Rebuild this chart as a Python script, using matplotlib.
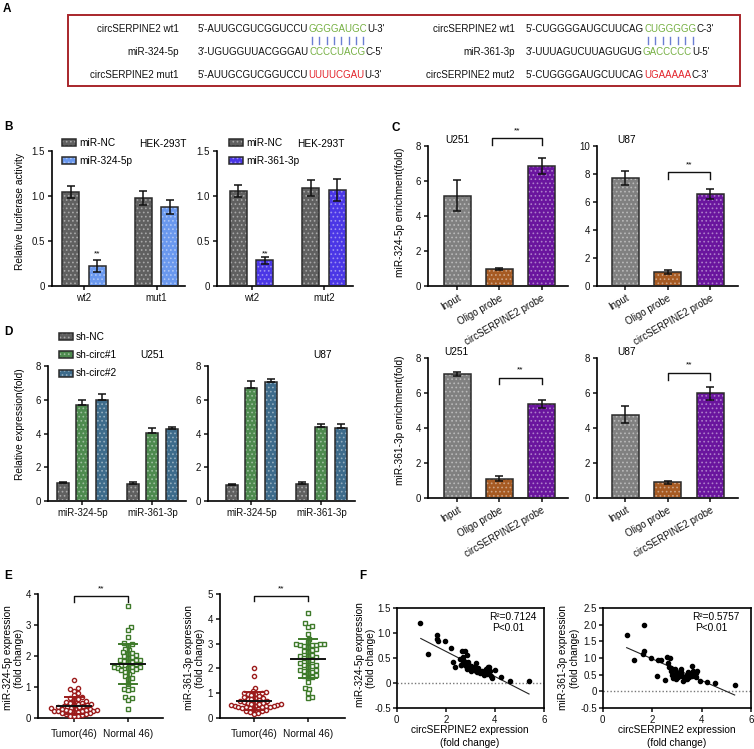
import numpy as np
import matplotlib
matplotlib.use('Agg')
import matplotlib.pyplot as plt
from matplotlib.patches import Rectangle

plt.rcParams['font.family'] = ['Liberation Sans', 'DejaVu Sans']
plt.rcParams['font.size'] = 7
plt.rcParams['hatch.linewidth'] = 0.7
plt.rcParams['axes.linewidth'] = 1.2
plt.rcParams['xtick.major.width'] = 1.1
plt.rcParams['ytick.major.width'] = 1.1
plt.rcParams['xtick.major.size'] = 3
plt.rcParams['ytick.major.size'] = 3
plt.rcParams['xtick.major.pad'] = 2
plt.rcParams['ytick.major.pad'] = 2

# ---------------- data ----------------
# Panel A
seqA_left = [
    ("circSERPINE2 wt1", [("5'-AUUGCGUCGGUCCU", 'k'), ("GGGGAUGC", 'g'), ("U-3'", 'k')]),
    ("miR-324-5p", [("3'-UGUGGUUACGGGAU", 'k'), ("CCCCUACG", 'g'), ("C-5'", 'k')]),
    ("circSERPINE2 mut1", [("5'-AUUGCGUCGGUCCU", 'k'), ("UUUUCGAU", 'r'), ("U-3'", 'k')]),
]
seqA_right = [
    ("circSERPINE2 wt1", [("5'-CUGGGGAUGCUUCAG", 'k'), ("CUGGGGG", 'g'), ("C-3'", 'k')]),
    ("miR-361-3p", [("3'-UUUAGUCUUAGUGUG", 'k'), ("GACCCCC", 'g'), ("U-5'", 'k')]),
    ("circSERPINE2 mut2", [("5'-CUGGGGAUGCUUCAG", 'k'), ("UGAAAAA", 'r'), ("C-3'", 'k')]),
]

# Panel B
B_groups_left = ["wt2", "mut1"]
B_groups_right = ["wt2", "mut2"]
B_nc_left = [1.044, 0.978]
B_nc_left_err = [0.063, 0.076]
B_324 = [0.222, 0.878]
B_324_err = [0.065, 0.078]
B_nc_right = [1.056, 1.089]
B_nc_right_err = [0.065, 0.085]
B_361 = [0.285, 1.07]
B_361_err = [0.042, 0.124]

# Panel C
C_cats = ["Input", "Oligo probe", "circSERPINE2 probe"]
C_324_U251 = [5.15, 0.97, 6.87]
C_324_U251_err = [0.88, 0.07, 0.45]
C_324_U87 = [7.68, 1.0, 6.56]
C_324_U87_err = [0.5, 0.14, 0.35]
C_361_U251 = [7.1, 1.09, 5.37]
C_361_U251_err = [0.1, 0.14, 0.22]
C_361_U87 = [4.76, 0.91, 5.98]
C_361_U87_err = [0.48, 0.09, 0.37]

# Panel D
D_groups = ["miR-324-5p", "miR-361-3p"]
D_series = ["sh-NC", "sh-circ#1", "sh-circ#2"]
D_U251 = [[1.04, 5.70, 6.00], [1.02, 4.02, 4.26]]
D_U251_err = [[0.10, 0.26, 0.34], [0.09, 0.30, 0.14]]
D_U87 = [[0.92, 6.72, 7.06], [1.02, 4.36, 4.30]]
D_U87_err = [[0.06, 0.38, 0.16], [0.09, 0.18, 0.24]]

# Panel E
E_cats = ["Tumor(46)", "Normal 46)"]
E_324_tumor = [1.22, 0.97, 0.92, 0.88, 0.82, 0.75, 0.68, 0.65, 0.62, 0.58, 0.55, 0.52, 0.50, 0.48,
               0.46, 0.45, 0.43, 0.42, 0.40, 0.38, 0.37, 0.35, 0.34, 0.33, 0.32, 0.30, 0.30, 0.28,
               0.27, 0.26, 0.25, 0.24, 0.23, 0.22, 0.22, 0.21, 0.20, 0.18, 0.16, 0.15, 0.13, 0.12,
               0.10, 0.08, 0.06, 0.05]
E_324_normal = [3.62, 2.95, 2.85, 2.62, 2.42, 2.40, 2.33, 2.22, 2.20, 2.12, 2.10, 2.08, 2.02, 2.00,
                1.96, 1.94, 1.88, 1.87, 1.86, 1.85, 1.82, 1.80, 1.74, 1.72, 1.70, 1.66, 1.65, 1.64,
                1.62, 1.60, 1.58, 1.56, 1.53, 1.50, 1.42, 1.35, 1.28, 1.25, 1.10, 0.95, 0.92, 0.90,
                0.68, 0.66, 0.58, 0.28]
E_361_tumor = [2.00, 1.68, 1.22, 1.10, 1.05, 1.02, 1.00, 0.98, 0.95, 0.92, 0.88, 0.85, 0.82, 0.80,
               0.78, 0.75, 0.72, 0.70, 0.68, 0.66, 0.64, 0.62, 0.60, 0.58, 0.56, 0.55, 0.53, 0.52,
               0.50, 0.49, 0.48, 0.47, 0.46, 0.45, 0.44, 0.43, 0.42, 0.40, 0.38, 0.35, 0.32, 0.30,
               0.28, 0.25, 0.22, 0.18]
E_361_normal = [4.22, 3.82, 3.70, 3.68, 3.38, 3.20, 3.05, 3.00, 2.98, 2.97, 2.96, 2.95, 2.94, 2.90,
                2.85, 2.80, 2.75, 2.70, 2.65, 2.55, 2.50, 2.48, 2.45, 2.40, 2.35, 2.30, 2.20, 2.15,
                2.12, 2.10, 2.05, 1.95, 1.92, 1.90, 1.75, 1.70, 1.85, 1.80, 1.65, 1.62, 1.45, 1.20,
                1.15, 1.00, 0.85, 0.82]

# Panel F
F1_x = [0.95, 1.29, 1.66, 1.63, 1.70, 1.97, 2.23, 2.28, 2.36, 2.56, 2.67, 2.78, 2.69, 2.74, 2.63,
        2.71, 2.81, 2.85, 2.90, 2.88, 3.01, 3.04, 3.15, 3.24, 3.22, 3.28, 3.38, 3.31, 3.49, 3.56,
        3.62, 3.66, 3.72, 3.76, 3.80, 3.69, 3.85, 3.87, 3.99, 4.23, 4.60, 5.39, 3.00, 3.50, 3.30, 2.60]
F1_y = [1.20, 0.585, 0.955, 0.89, 0.84, 0.84, 0.70, 0.43, 0.33, 0.48, 0.65, 0.65, 0.52, 0.45, 0.36,
        0.40, 0.35, 0.565, 0.42, 0.28, 0.35, 0.235, 0.32, 0.41, 0.25, 0.215, 0.195, 0.26, 0.25, 0.17,
        0.28, 0.23, 0.32, 0.33, 0.25, 0.18, 0.15, 0.10, 0.27, 0.115, 0.047, 0.047, 0.30, 0.20, 0.30, 0.37]
F1_fit = (-0.2517, 1.1367)   # slope, intercept
F1_fit_range = (0.98, 5.39)
F2_x = [0.97, 1.68, 1.28, 1.62, 1.68, 1.95, 2.24, 2.35, 2.19, 2.51, 2.62, 2.71, 2.66, 2.68, 2.78,
        2.82, 2.86, 2.91, 2.95, 3.05, 3.15, 3.15, 3.19, 3.26, 3.32, 3.38, 3.45, 3.53, 3.62, 3.66,
        3.72, 3.79, 3.83, 3.76, 3.93, 4.20, 4.56, 5.34, 3.49, 2.95, 2.90, 3.10, 3.30, 3.60, 2.75, 3.40]
F2_y = [1.69, 1.99, 0.95, 1.13, 1.21, 1.00, 0.95, 0.93, 0.46, 0.35, 1.03, 1.00, 0.85, 0.73, 0.60,
        0.50, 0.40, 0.66, 0.54, 0.42, 0.675, 0.575, 0.47, 0.32, 0.37, 0.47, 0.575, 0.52, 0.76, 0.60,
        0.52, 0.54, 0.60, 0.42, 0.32, 0.27, 0.26, 0.20, 0.42, 0.37, 0.45, 0.55, 0.42, 0.45, 0.70, 0.36]
F2_fit = (-0.325, 1.625)
F2_fit_range = (0.97, 5.34)

# ---------------- colours ----------------
GRAY_B = '#606060'
BLUE_324 = '#6a98ee'
BLUE_361 = '#4a36e6'
GRAY_C = '#808080'
BROWN = '#a65a22'
PURPLE = '#6a159e'
GREEN_D = '#4d8a4e'
TEAL_D = '#3d6b8b'
RED_E = '#9c1c1c'
GREEN_E = '#3e7a2a'
SEQ_COL = {'k': '#111111', 'g': '#76b043', 'r': '#e3242b'}

W, H = 754, 749
fig = plt.figure(figsize=(W / 100, H / 100), dpi=100)


def axes_px(l, t, r, b):
    return fig.add_axes([l / W, 1 - b / H, (r - l) / W, (b - t) / H])


def ftext(x, y, s, **kw):
    return fig.text(x / W, 1 - y / H, s, **kw)


def lighten(c, f):
    import matplotlib.colors as mc
    r, g, b = mc.to_rgb(c)
    return (r + (1 - r) * f, g + (1 - g) * f, b + (1 - b) * f)


def style_ax(ax):
    for s in ['top', 'right']:
        ax.spines[s].set_visible(False)
    ax.tick_params(direction='out', labelsize=7, colors='#111111')


def dbar(ax, x, h, w, color, err=None, upper_only=False):
    ax.bar(x, h, w, color=color, edgecolor=lighten(color, 0.45), hatch='....',
           linewidth=0, zorder=2)
    ax.bar(x, h, w, color='none', edgecolor='#2b2b2b', linewidth=1.1, zorder=3)
    if err is not None:
        if upper_only:
            yerr = [np.zeros(len(np.atleast_1d(err))), np.atleast_1d(err)]
        else:
            yerr = err
        ax.errorbar(x, h, yerr=yerr, fmt='none', ecolor='#111111', elinewidth=1.1,
                    capsize=3.2, capthick=1.1, zorder=4)


def fig_legend_patch(x0, y0, w, h, color, label):
    r1 = Rectangle((x0 / W, 1 - (y0 + h) / H), w / W, h / H, transform=fig.transFigure,
                   facecolor=color, edgecolor=lighten(color, 0.45), hatch='....', linewidth=0)
    r2 = Rectangle((x0 / W, 1 - (y0 + h) / H), w / W, h / H, transform=fig.transFigure,
                   facecolor='none', edgecolor='#2b2b2b', linewidth=1.1)
    fig.add_artist(r1)
    fig.add_artist(r2)
    ftext(x0 + w + 3, y0 + h / 2, label, ha='left', va='center', fontsize=7.3)


# ---------------- Panel letters ----------------
for lab, x, y in [('A', 3, 3), ('B', 4, 121), ('C', 392, 122), ('D', 4, 326), ('E', 4, 570), ('F', 359, 570)]:
    ftext(x, y, lab, ha='left', va='top', fontsize=8.5, fontweight='bold')

# ---------------- Panel A ----------------
fig.add_artist(Rectangle((68 / W, 1 - 86 / H), (740 - 68) / W, (86 - 15) / H,
                         transform=fig.transFigure, facecolor='none', edgecolor='#a8262b', linewidth=1.4))
renderer = fig.canvas.get_renderer()
rows_y = [29.5, 52, 75.5]


def draw_seq_block(rows, label_right, seq_left):
    green_ext = None
    for (label, pieces), y in zip(rows, rows_y):
        ftext(label_right, y, label, ha='right', va='center', fontsize=7.1, color='#111111')
        x = seq_left
        for s, c in pieces:
            t = ftext(x, y, s, ha='left', va='center', fontsize=7.0, color=SEQ_COL[c])
            bb = t.get_window_extent(renderer=renderer)
            if c == 'g' and green_ext is None:
                green_ext = (bb.x0, bb.x1, len(s))
            x = bb.x1
    x0, x1, n = green_ext
    step = (x1 - x0) / n
    for i in range(n):
        xc = x0 + step * (i + 0.5)
        fig.add_artist(plt.Line2D([xc / W, xc / W], [1 - 37 / H, 1 - 43.5 / H], transform=fig.transFigure,
                                  color='#6b7fd3', linewidth=1.0))


draw_seq_block(seqA_left, 179, 198)
draw_seq_block(seqA_right, 515, 526)

# ---------------- Panel B ----------------
def panel_B(box, nc, nc_err, mi, mi_err, mi_color, groups, xlim):
    ax = axes_px(*box)
    style_ax(ax)
    x = np.arange(len(groups))
    dbar(ax, x - 0.183, nc, 0.234, GRAY_B, nc_err)
    dbar(ax, x + 0.183, mi, 0.234, mi_color, mi_err)
    ax.set_xlim(*xlim)
    ax.set_ylim(0, 1.5)
    ax.set_yticks([0, 0.5, 1.0, 1.5])
    ax.set_yticklabels(['0', '0.5', '1.0', '1.5'])
    ax.set_xticks(x)
    ax.set_xticklabels(groups)
    ax.text(x[0] + 0.183, 0.36, '**', ha='center', va='center', fontsize=6)
    return ax


panel_B((52, 151, 185, 286), B_nc_left, B_nc_left_err, B_324, B_324_err, BLUE_324, B_groups_left, (-0.44, 1.39))
panel_B((217, 151, 353, 286), B_nc_right, B_nc_right_err, B_361, B_361_err, BLUE_361, B_groups_right, (-0.48, 1.40))
fig_legend_patch(62, 139, 14, 7, GRAY_B, 'miR-NC')
fig_legend_patch(62, 157, 14, 7, BLUE_324, 'miR-324-5p')
fig_legend_patch(229, 139, 14, 7, GRAY_B, 'miR-NC')
fig_legend_patch(229, 157, 14, 7, BLUE_361, 'miR-361-3p')
ftext(163, 144, 'HEK-293T', ha='center', va='center', fontsize=7.3)
ftext(321, 144, 'HEK-293T', ha='center', va='center', fontsize=7.3)
ftext(20, 212, 'Relative luciferase activity', rotation=90, ha='center', va='center', fontsize=7.3)

# ---------------- Panel C ----------------
def panel_C(box, vals, errs, ymax, title, title_xy, brk, xlim):
    ax = axes_px(*box)
    style_ax(ax)
    x = np.arange(3)
    for i, c in enumerate([GRAY_C, BROWN, PURPLE]):
        dbar(ax, x[i], vals[i], 0.64, c, errs[i])
    ax.set_xlim(*xlim)
    ax.set_ylim(0, ymax)
    ax.set_yticks(np.arange(0, ymax + 0.1, 2))
    ax.set_xticks(x)
    ax.set_xticklabels(C_cats, rotation=30, ha='right', rotation_mode='anchor')
    bx0, bx1, yleg, ytop, ystar = brk
    ax.plot([bx0, bx0, bx1, bx1], [yleg, ytop, ytop, yleg], color='#111111', lw=1.0, clip_on=False)
    ax.text((bx0 + bx1) / 2, ystar, '**', ha='center', va='center', fontsize=6)
    ftext(title_xy[0], title_xy[1], title, ha='center', va='center', fontsize=7.3)
    return ax


panel_C((428, 146, 568, 286), C_324_U251, C_324_U251_err, 8, 'U251', (457, 140),
        (0.82, 2.0, 8.06, 8.46, 8.85), (-0.70, 2.63))
panel_C((597, 146, 738, 286), C_324_U87, C_324_U87_err, 10, 'U87', (627, 140),
        (1.0, 2.0, 7.64, 8.14, 8.65), (-0.67, 2.66))
panel_C((428, 358, 568, 498), C_361_U251, C_361_U251_err, 8, 'U251', (456, 352),
        (1.0, 2.0, 6.5, 6.86, 7.3), (-0.70, 2.63))
panel_C((597, 358, 738, 498), C_361_U87, C_361_U87_err, 8, 'U87', (627, 352),
        (1.0, 2.0, 6.74, 7.14, 7.6), (-0.67, 2.66))
ftext(400, 212, 'miR-324-5p enrichment(fold)', rotation=90, ha='center', va='center', fontsize=7.3)
ftext(400, 420, 'miR-361-3p enrichment(fold)', rotation=90, ha='center', va='center', fontsize=7.3)

# ---------------- Panel D ----------------
def panel_D(box, vals, errs, title, title_xy, xlim):
    ax = axes_px(*box)
    style_ax(ax)
    x = np.arange(len(D_groups))
    cols = [GRAY_B, GREEN_D, TEAL_D]
    for j in range(3):
        h = [vals[g][j] for g in range(len(D_groups))]
        e = [errs[g][j] for g in range(len(D_groups))]
        dbar(ax, x + (j - 1) * 0.275, h, 0.17, cols[j], e, upper_only=True)
    ax.set_xlim(*xlim)
    ax.set_ylim(0, 8)
    ax.set_yticks([0, 2, 4, 6, 8])
    ax.set_xticks(x)
    ax.set_xticklabels(D_groups)
    ftext(title_xy[0], title_xy[1], title, ha='center', va='center', fontsize=7.3)
    return ax


panel_D((48, 366, 186, 501), D_U251, D_U251_err, 'U251', (152, 355), (-0.49, 1.48))
panel_D((208, 366, 355, 501), D_U87, D_U87_err, 'U87', (323, 355), (-0.62, 1.48))
for (lab, c), y in zip(zip(D_series, [GRAY_B, GREEN_D, TEAL_D]), [333, 351, 370]):
    fig_legend_patch(59, y, 14, 7, c, lab)
ftext(20, 424, 'Relative expression(fold)', rotation=90, ha='center', va='center', fontsize=7.3)

# ---------------- Panel E ----------------
def swarm_offsets(vals, ppu_x, ppu_y, d, step):
    vals = np.asarray(vals, float)
    order = np.argsort(vals)
    placed = []
    offs = np.zeros(len(vals))
    cands = [0.0]
    for j in range(1, 80):
        cands += [j * step, -j * step]
    for i in order:
        y = vals[i] * ppu_y
        for c in cands:
            if all((c - px) ** 2 + (y - py) ** 2 >= d * d for px, py in placed):
                break
        placed.append((c, y))
        offs[i] = c / ppu_x
    return offs


def panel_E(box, tumor, normal, ymax, brk, xlim):
    ax = axes_px(*box)
    style_ax(ax)
    l, t, r, b = box
    ppu_x = (r - l) / (xlim[1] - xlim[0])
    ppu_y = (b - t) / ymax
    for k, (vals, col, mk) in enumerate([(tumor, RED_E, 'o'), (normal, GREEN_E, 's')]):
        vals = np.asarray(vals)
        offs = swarm_offsets(vals, ppu_x, ppu_y, 3.9, 1.3)
        ax.plot(k + offs, vals, linestyle='none', marker=mk, markersize=3.0, markerfacecolor='white',
                markeredgecolor=col, markeredgewidth=1.0, zorder=3)
        m = vals.mean()
        sd = vals.std(ddof=1)
        ax.plot([k, k], [m - sd, m + sd], color=col, lw=2.0, zorder=4)
        ax.plot([k - 0.17, k + 0.17], [m - sd, m - sd], color=col, lw=1.4, zorder=4)
        ax.plot([k - 0.17, k + 0.17], [m + sd, m + sd], color=col, lw=1.4, zorder=4)
        ax.plot([k - 0.32, k + 0.32], [m, m], color='#111111', lw=1.4, zorder=5)
    ax.set_xlim(*xlim)
    ax.set_ylim(0, ymax)
    ax.set_yticks(np.arange(0, ymax + 0.1, 1))
    ax.set_xticks([0, 1])
    ax.set_xticklabels(E_cats, fontsize=7.3)
    ax.tick_params(axis='x', pad=5)
    yleg, ytop, ystar = brk
    ax.plot([0, 0, 1, 1], [yleg, ytop, ytop, yleg], color='#111111', lw=1.0, clip_on=False)
    ax.text(0.5, ystar, '**', ha='center', va='center', fontsize=6)
    return ax


panel_E((38, 594, 163, 718), E_324_tumor, E_324_normal, 4, (3.75, 3.93, 4.16), (-0.667, 1.65))
panel_E((220, 594, 345, 718), E_361_tumor, E_361_normal, 5, (4.7, 4.9, 5.2), (-0.63, 1.685))
ftext(8, 658, 'miR-324-5p expression', rotation=90, ha='center', va='center', fontsize=7.3)
ftext(19, 658, '(fold change)', rotation=90, ha='center', va='center', fontsize=7.3)
ftext(189, 658, 'miR-361-3p expression', rotation=90, ha='center', va='center', fontsize=7.3)
ftext(200, 658, '(fold change)', rotation=90, ha='center', va='center', fontsize=7.3)

# ---------------- Panel F ----------------
def panel_F(box, xs, ys, fit, frange, ylim, yticks, yticklabels, r2, r2xy):
    ax = axes_px(*box)
    ax.tick_params(direction='out', labelsize=7, colors='#111111')
    ax.tick_params(axis='y', pad=1)
    ax.axhline(0, color='#777777', lw=1.0, linestyle=(0, (1, 1.5)), zorder=1)
    ax.plot(xs, ys, linestyle='none', marker='o', markersize=3.0, color='black', zorder=3)
    fx = np.array(frange)
    ax.plot(fx, fit[0] * fx + fit[1], color='#222222', lw=0.8, zorder=2)
    ax.set_xlim(0, 6)
    ax.set_ylim(*ylim)
    ax.set_xticks([0, 2, 4, 6])
    ax.set_yticks(yticks)
    ax.set_yticklabels(yticklabels)
    ftext(r2xy[0], r2xy[1], r2, ha='center', va='center', fontsize=7.3)
    ftext(r2xy[0] - 5, r2xy[1] + 11, 'P<0.01', ha='center', va='center', fontsize=7.3)
    return ax


panel_F((396.7, 608, 544, 708), F1_x, F1_y, F1_fit, F1_fit_range, (-0.5, 1.5),
        [-0.5, 0, 0.5, 1.0, 1.5], ['-0.5', '0', '0.5', '1.0', '1.5'], 'R²=0.7124', (513, 617))
panel_F((602.7, 608, 751, 708), F2_x, F2_y, F2_fit, F2_fit_range, (-0.5, 2.5),
        [-0.5, 0, 0.5, 1.0, 1.5, 2.0, 2.5], ['-0.5', '0', '0.5', '1.0', '1.5', '2.0', '2.5'],
        'R²=0.5757', (716, 617))
ftext(360, 655, 'miR-324-5p expression', rotation=90, ha='center', va='center', fontsize=7.3)
ftext(371, 658, '(fold change)', rotation=90, ha='center', va='center', fontsize=7.3)
ftext(563, 658, 'miR-361-3p expression', rotation=90, ha='center', va='center', fontsize=7.3)
ftext(575, 658, '(fold change)', rotation=90, ha='center', va='center', fontsize=7.3)
ftext(470, 730, 'circSERPINE2 expression', ha='center', va='center', fontsize=7.3)
ftext(470, 743, '(fold change)', ha='center', va='center', fontsize=7.3)
ftext(677, 730, 'circSERPINE2 expression', ha='center', va='center', fontsize=7.3)
ftext(677, 743, '(fold change)', ha='center', va='center', fontsize=7.3)

fig.savefig('out.png', dpi=100, facecolor='white')
